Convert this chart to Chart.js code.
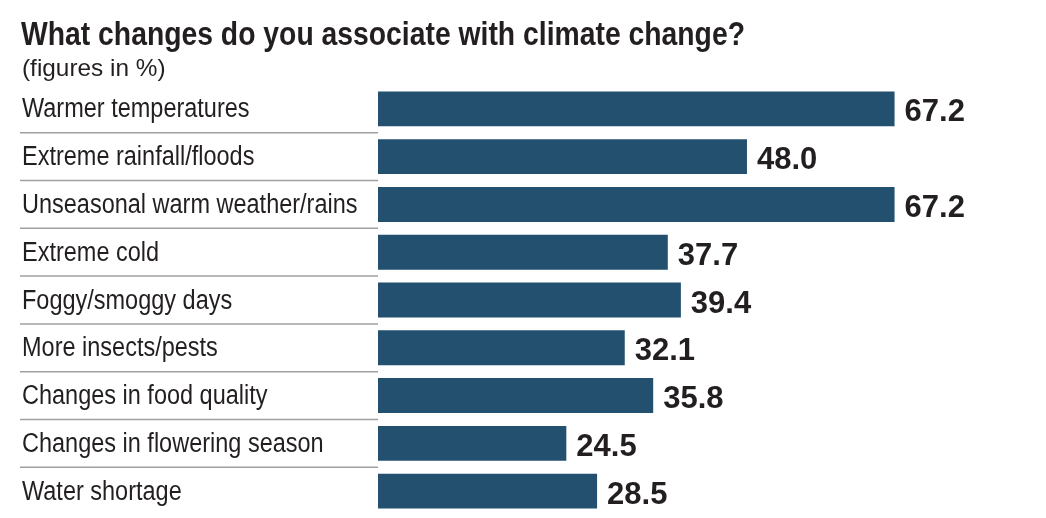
<!DOCTYPE html>
<html>
<head>
<meta charset="utf-8">
<script src="https://cdn.jsdelivr.net/npm/chart.js@4"></script>
<style>
  html, body { margin: 0; padding: 0; background: #fff; }
  #wrap { width: 1046px; height: 518px; }
</style>
</head>
<body>
<div id="wrap"><canvas id="my-chart" width="1046" height="518"></canvas></div>
<script>
const FONT = "'Liberation Sans', Arial, sans-serif";

const categories = [
  'Warmer temperatures',
  'Extreme rainfall/floods',
  'Unseasonal warm weather/rains',
  'Extreme cold',
  'Foggy/smoggy days',
  'More insects/pests',
  'Changes in food quality',
  'Changes in flowering season',
  'Water shortage',
];
const values = [67.2, 48.0, 67.2, 37.7, 39.4, 32.1, 35.8, 24.5, 28.5];
const title = 'What changes do you associate with climate change?';
const subtitle = '(figures in %)';

// condensed text: squeeze horizontally around x
function narrowText(ctx, text, x, y, sx) {
  ctx.save();
  ctx.translate(x, y);
  ctx.scale(sx, 1);
  ctx.fillText(text, 0, 0);
  ctx.restore();
}

// title, category labels, separators and value labels
const extras = {
  id: 'extras',
  afterDraw: (chart) => {
    const ctx = chart.ctx;
    const y = chart.scales.y;
    ctx.save();
    ctx.fillStyle = '#231f20';
    ctx.textAlign = 'left';
    ctx.textBaseline = 'alphabetic';
    ctx.font = 'bold 34px ' + FONT;
    narrowText(ctx, title, 21, 45, 0.833);
    ctx.font = '24px ' + FONT;
    narrowText(ctx, subtitle, 22, 76, 1.015);

    ctx.font = '27px ' + FONT;
    categories.forEach((c, i) => {
      narrowText(ctx, c, 22, y.getPixelForValue(i) + 8.5, 0.87);
    });

    ctx.strokeStyle = '#a0a0a0';
    ctx.lineWidth = 1.5;
    for (let i = 0; i < categories.length - 1; i++) {
      const yy = (y.getPixelForValue(i) + y.getPixelForValue(i + 1)) / 2;
      ctx.beginPath();
      ctx.moveTo(20, yy);
      ctx.lineTo(chart.chartArea.left, yy);
      ctx.stroke();
    }

    ctx.font = 'bold 31px ' + FONT;
    chart.getDatasetMeta(0).data.forEach((bar, i) => {
      ctx.fillText(values[i].toFixed(1), bar.x + 10, bar.y + 12.5);
    });
    ctx.restore();
  }
};

const data = {
  labels: categories,
  datasets: [{
    data: values,
    backgroundColor: '#22506e',
    barPercentage: 0.73,
    categoryPercentage: 1,
  }]
};

const config = {
  type: 'bar',
  data,
  options: {
    indexAxis: 'y',
    responsive: false,
    animation: false,
    layout: { padding: { top: 85, bottom: 3, left: 20, right: 0 } },
    scales: {
      x: { display: false, min: 0, max: 86.9 },
      y: {
        grid: { display: false },
        border: { display: false },
        afterFit: (scale) => { scale.width = 358; },
        ticks: { display: false }
      }
    },
    plugins: {
      legend: { display: false },
      tooltip: { enabled: false },
    }
  },
  plugins: [extras]
};

let myChart = new Chart(document.getElementById('my-chart'), config);
</script>
</body>
</html>
